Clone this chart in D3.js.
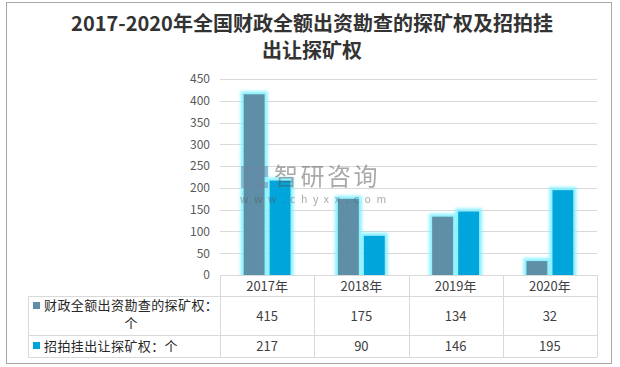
<!DOCTYPE html>
<html>
<head>
<meta charset="utf-8">
<script src="https://cdn.jsdelivr.net/npm/d3@7"></script>
<style>
  html, body { margin: 0; padding: 0; background: #fff; }
  svg { display: block; }
  text { font-family: "Noto Sans CJK SC", "Noto Sans", sans-serif; }
</style>
</head>
<body>
<svg id="chart" width="620" height="367"></svg>
<script>
const titleLines = ["2017-2020年全国财政全额出资勘查的探矿权及招拍挂", "出让探矿权"];
const categories = ["2017年", "2018年", "2019年", "2020年"];
const seriesNames = ["财政全额出资勘查的探矿权：个", "招拍挂出让探矿权：个"];
const legendLines = [["财政全额出资勘查的探矿权：", "个"], ["招拍挂出让探矿权：个"]];
const seriesA = [415, 175, 134, 32];
const seriesB = [217, 90, 146, 195];
const yTicks = [0, 50, 100, 150, 200, 250, 300, 350, 400, 450];
const colors = ["#5e8fa6", "#00a5dc"];

const svg = d3.select("#chart");

// outer border
svg.append("rect").attr("x", 6.5).attr("y", 2.5).attr("width", 605).attr("height", 361)
  .attr("fill", "#fff").attr("stroke", "#a6a6a6").attr("stroke-width", 1);

// title
const title = svg.append("text").attr("text-anchor", "middle").attr("fill", "#333")
  .attr("font-size", 20).attr("font-weight", "bold");
title.selectAll("tspan").data(titleLines).join("tspan")
  .attr("x", 312).attr("y", (d, i) => 31 + i * 27).text(d => d);

// scales
const x0 = 220, x1 = 597;
const x = d3.scaleBand().domain(categories).range([x0, x1]).padding(0);
const y = d3.scaleLinear().domain([0, 450]).range([275, 79]);
const inner = d3.scaleBand().domain([0, 1]).range([-23.5, 23.5]).paddingInner(0.19).paddingOuter(0);

// gridlines
svg.append("g").selectAll("line").data(yTicks).join("line")
  .attr("x1", x0).attr("x2", x1)
  .attr("y1", d => Math.round(y(d)) + 0.5).attr("y2", d => Math.round(y(d)) + 0.5)
  .attr("stroke", "#d9d9d9").attr("stroke-width", 1);

// y axis labels via d3 axis
const yAxis = d3.axisLeft(y).tickValues(yTicks).tickSize(0).tickPadding(0);
const gy = svg.append("g").attr("transform", "translate(210,0)").call(yAxis);
gy.select(".domain").remove();
gy.selectAll("text").attr("font-size", 12).attr("fill", "#595959")
  .attr("font-family", "'Noto Sans', 'DejaVu Sans', sans-serif");

// glow filter
const defs = svg.append("defs");
const f = defs.append("filter").attr("id", "glow").attr("x", "-50%").attr("y", "-50%").attr("width", "200%").attr("height", "200%");
f.append("feMorphology").attr("in", "SourceAlpha").attr("operator", "dilate").attr("radius", 2.5).attr("result", "d");
f.append("feGaussianBlur").attr("in", "d").attr("stdDeviation", 1.6).attr("result", "b");
f.append("feFlood").attr("flood-color", "#7ff0ff").attr("flood-opacity", 0.9).attr("result", "c");
f.append("feComposite").attr("in", "c").attr("in2", "b").attr("operator", "in").attr("result", "g");
const m = f.append("feMerge");
m.append("feMergeNode").attr("in", "g");
m.append("feMergeNode").attr("in", "SourceGraphic");
defs.append("clipPath").attr("id", "plotclip").append("rect")
  .attr("x", x0).attr("y", 60).attr("width", x1 - x0).attr("height", 275 - 60);

// bars
const bars = [];
categories.forEach((c, i) => {
  bars.push({ c, s: 0, v: seriesA[i] });
  bars.push({ c, s: 1, v: seriesB[i] });
});
svg.append("g").attr("clip-path", "url(#plotclip)")
  .selectAll("g").data(bars).join("g").attr("filter", "url(#glow)")
  .append("rect")
  .attr("x", d => x(d.c) + x.bandwidth() / 2 + inner(d.s))
  .attr("y", d => y(d.v))
  .attr("width", inner.bandwidth())
  .attr("height", d => y(0) - y(d.v))
  .attr("fill", d => colors[d.s]);

// watermark
const wm = svg.append("g").attr("opacity", 0.5);
wm.append("path").attr("d", "M241,166 h12 v6 h-6 v10 h6 v6 h-12 z").attr("fill", "#6a86a6");
wm.append("path").attr("d", "M255,166 h13 v11 h-8 v5 h8 v6 h-13 v-14 h7 v-3 h-7 z").attr("fill", "#6a86a6");
wm.append("text").attr("x", 274).attr("y", 184.5).attr("font-size", 24).attr("letter-spacing", 2.5)
  .attr("fill", "#555").text("智研咨询");
wm.append("text").attr("x", 240).attr("y", 202.5).attr("font-size", 10.5).attr("letter-spacing", 5.6)
  .attr("fill", "#555").attr("font-family", "'DejaVu Sans', sans-serif").text("www.chyxx.com");

// data table
const tLeft = 28;
const grid = svg.append("g").attr("stroke", "#d9d9d9").attr("stroke-width", 1);
grid.append("line").attr("x1", x0).attr("x2", x1).attr("y1", 275.5).attr("y2", 275.5);
[296, 335, 357].forEach(yy => grid.append("line").attr("x1", tLeft).attr("x2", x1).attr("y1", yy + 0.5).attr("y2", yy + 0.5));
grid.append("line").attr("x1", tLeft + 0.5).attr("x2", tLeft + 0.5).attr("y1", 296).attr("y2", 357);
const bounds = categories.map(c => x(c)).concat([x1]);
bounds.forEach(bx => grid.append("line").attr("x1", Math.round(bx) + 0.5).attr("x2", Math.round(bx) + 0.5).attr("y1", 275).attr("y2", 357));

// header
svg.append("g").selectAll("text").data(categories).join("text")
  .attr("x", d => x(d) + x.bandwidth() / 2).attr("y", 290.5)
  .attr("text-anchor", "middle").attr("font-size", 13).attr("fill", "#404040").text(d => d);

// values
const rowsY = [320.5, 350.5];
[seriesA, seriesB].forEach((arr, r) => {
  svg.append("g").selectAll("text").data(arr).join("text")
    .attr("x", (d, i) => x(categories[i]) + x.bandwidth() / 2).attr("y", rowsY[r])
    .attr("text-anchor", "middle").attr("font-size", 13).attr("fill", "#404040")
    .attr("font-family", "'Noto Sans', 'DejaVu Sans', sans-serif").text(d => d);
});

// legend cells
const legY = [[310, 328], [351]];
legendLines.forEach((lines, r) => {
  svg.append("rect").attr("x", 33).attr("y", r === 0 ? 302 : 342).attr("width", 7).attr("height", 7).attr("fill", colors[r]);
  lines.forEach((ln, k) => {
    const isCenter = (r === 0 && k === 1);
    svg.append("text").attr("x", isCenter ? 131 : 44).attr("y", legY[r][k])
      .attr("text-anchor", isCenter ? "middle" : "start")
      .attr("font-size", 13).attr("letter-spacing", isCenter ? 0 : 0.4)
      .attr("fill", "#262626").text(ln);
  });
});
</script>
</body>
</html>
